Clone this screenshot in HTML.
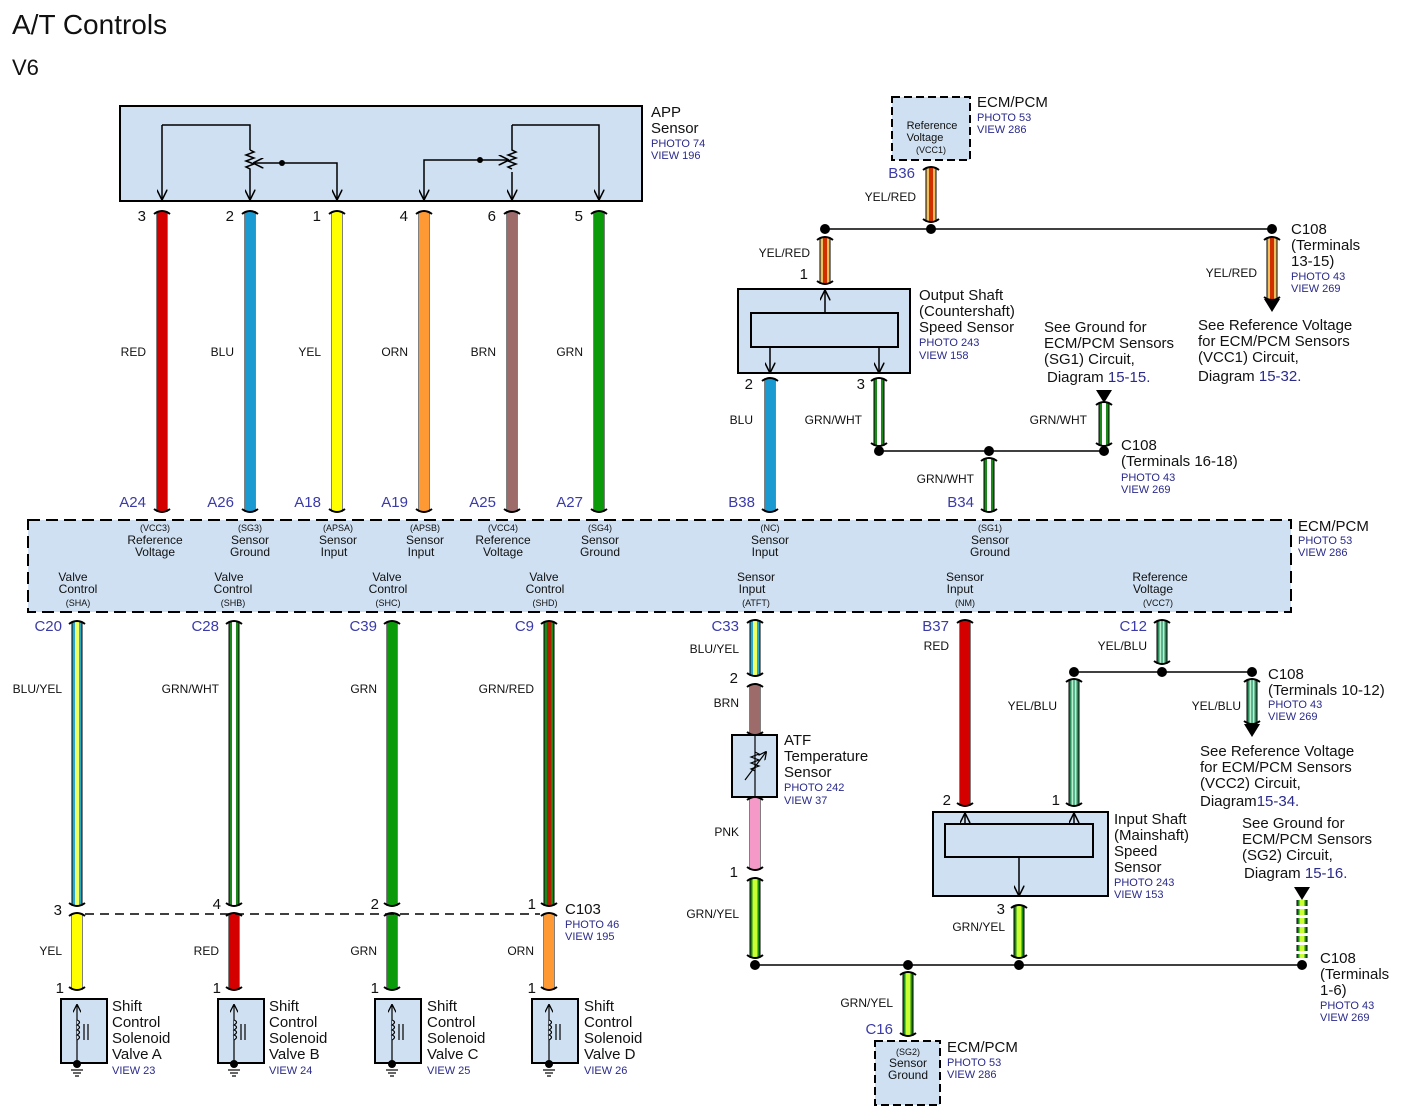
<!DOCTYPE html>
<html><head><meta charset="utf-8"><style>
html,body{margin:0;padding:0;background:#fff;}
svg{display:block;font-family:"Liberation Sans",Arial,sans-serif;}
.t15{font-size:15px;fill:#111;}
.t11{font-size:11px;fill:#111;}
.b11{font-size:11px;fill:#2a2a8a;}
.lbl{font-size:15px;fill:#3a3aa8;text-anchor:end;}
.wl{font-size:12px;fill:#111;text-anchor:end;}
.pn{font-size:15px;fill:#111;text-anchor:end;}
.c{text-anchor:middle;}
.s12{font-size:12px;fill:#111;}
.s9{font-size:9px;fill:#111;}
</style></head><body>
<svg id="s" width="1406" height="1119" viewBox="0 0 1406 1119" xmlns="http://www.w3.org/2000/svg">
<defs>
<marker id="ar" viewBox="0 0 10 10" refX="9" refY="5" markerWidth="7" markerHeight="7" orient="auto"><path d="M0 0 L10 5 L0 10" fill="none" stroke="#000" stroke-width="1.5"/></marker>
</defs>
<rect width="1406" height="1119" fill="#fff"/>
<text x="12" y="34" style="font-size:28px;fill:#111">A/T Controls</text>
<text x="12" y="75" style="font-size:22px;fill:#111">V6</text>

<!-- APP sensor -->
<rect x="120" y="106" width="522" height="95" fill="#cfe0f2" stroke="#000" stroke-width="2"/>
<g stroke="#000" stroke-width="1.5" fill="none">
<path d="M162 125 L162 199" marker-end="url(#ar)"/>
<path d="M162 125 L250 125 L250 150"/>
<path d="M250 172 L250 199" marker-end="url(#ar)"/>
<path d="M250 150 l4 2 l-8 3 l8 3 l-8 3 l8 3 l-8 3 l4 2 l0 3"/>
<path d="M282 163 L254 163" marker-end="url(#ar)"/>
<path d="M282 163 L337 163 L337 199" marker-end="url(#ar)"/>
<path d="M480 160 L424 160 L424 199" marker-end="url(#ar)"/>
<path d="M480 160 L508 160" marker-end="url(#ar)"/>
<path d="M512 125 L512 150 l4 2 l-8 3 l8 3 l-8 3 l8 3 l-8 3 l4 2"/>
<path d="M512 172 L512 199" marker-end="url(#ar)"/>
<path d="M512 125 L599 125 L599 199" marker-end="url(#ar)"/>
</g>
<circle cx="282" cy="163" r="3"/><circle cx="480" cy="160" r="3"/>
<text x="651" y="117" class="t15">APP</text><text x="651" y="133" class="t15">Sensor</text>
<text x="651" y="147" class="b11">PHOTO 74</text><text x="651" y="159" class="b11">VIEW 196</text>

<g id="wires"></g>

<text x="146" y="221" class="pn">3</text><text x="234" y="221" class="pn">2</text><text x="321" y="221" class="pn">1</text>
<text x="408" y="221" class="pn">4</text><text x="496" y="221" class="pn">6</text><text x="583" y="221" class="pn">5</text>
<text x="146" y="356" class="wl">RED</text><text x="234" y="356" class="wl">BLU</text><text x="321" y="356" class="wl">YEL</text>
<text x="408" y="356" class="wl">ORN</text><text x="496" y="356" class="wl">BRN</text><text x="583" y="356" class="wl">GRN</text>
<text x="146" y="507" class="lbl">A24</text><text x="234" y="507" class="lbl">A26</text><text x="321" y="507" class="lbl">A18</text>
<text x="408" y="507" class="lbl">A19</text><text x="496" y="507" class="lbl">A25</text><text x="583" y="507" class="lbl">A27</text>

<!-- ECM main box -->
<rect x="28" y="520" width="1263" height="92" fill="#cfe0f2" stroke="#000" stroke-width="2" stroke-dasharray="12,6"/>
<g class="c">
<text x="155" y="531" class="s9 c">(VCC3)</text><text x="155" y="544" class="s12 c">Reference</text><text x="155" y="556" class="s12 c">Voltage</text>
<text x="250" y="531" class="s9 c">(SG3)</text><text x="250" y="544" class="s12 c">Sensor</text><text x="250" y="556" class="s12 c">Ground</text>
<text x="338" y="531" class="s9 c">(APSA)</text><text x="338" y="544" class="s12 c">Sensor</text><text x="334" y="556" class="s12 c">Input</text>
<text x="425" y="531" class="s9 c">(APSB)</text><text x="425" y="544" class="s12 c">Sensor</text><text x="421" y="556" class="s12 c">Input</text>
<text x="503" y="531" class="s9 c">(VCC4)</text><text x="503" y="544" class="s12 c">Reference</text><text x="503" y="556" class="s12 c">Voltage</text>
<text x="600" y="531" class="s9 c">(SG4)</text><text x="600" y="544" class="s12 c">Sensor</text><text x="600" y="556" class="s12 c">Ground</text>
<text x="770" y="531" class="s9 c">(NC)</text><text x="770" y="544" class="s12 c">Sensor</text><text x="765" y="556" class="s12 c">Input</text>
<text x="990" y="531" class="s9 c">(SG1)</text><text x="990" y="544" class="s12 c">Sensor</text><text x="990" y="556" class="s12 c">Ground</text>
<text x="73" y="581" class="s12 c">Valve</text><text x="78" y="593" class="s12 c">Control</text><text x="78" y="606" class="s9 c">(SHA)</text>
<text x="229" y="581" class="s12 c">Valve</text><text x="233" y="593" class="s12 c">Control</text><text x="233" y="606" class="s9 c">(SHB)</text>
<text x="387" y="581" class="s12 c">Valve</text><text x="388" y="593" class="s12 c">Control</text><text x="388" y="606" class="s9 c">(SHC)</text>
<text x="544" y="581" class="s12 c">Valve</text><text x="545" y="593" class="s12 c">Control</text><text x="545" y="606" class="s9 c">(SHD)</text>
<text x="756" y="581" class="s12 c">Sensor</text><text x="752" y="593" class="s12 c">Input</text><text x="756" y="606" class="s9 c">(ATFT)</text>
<text x="965" y="581" class="s12 c">Sensor</text><text x="960" y="593" class="s12 c">Input</text><text x="965" y="606" class="s9 c">(NM)</text>
<text x="1160" y="581" class="s12 c">Reference</text><text x="1153" y="593" class="s12 c">Voltage</text><text x="1158" y="606" class="s9 c">(VCC7)</text>
</g>
<text x="1298" y="531" class="t15">ECM/PCM</text><text x="1298" y="544" class="b11">PHOTO 53</text><text x="1298" y="556" class="b11">VIEW 286</text>

<!-- lower left -->
<text x="62" y="631" class="lbl">C20</text><text x="219" y="631" class="lbl">C28</text><text x="377" y="631" class="lbl">C39</text><text x="534" y="631" class="lbl">C9</text>
<text x="62" y="693" class="wl">BLU/YEL</text><text x="219" y="693" class="wl">GRN/WHT</text><text x="377" y="693" class="wl">GRN</text><text x="534" y="693" class="wl">GRN/RED</text>
<line x1="85" y1="914" x2="540" y2="914" stroke="#000" stroke-width="1.5" stroke-dasharray="9,6"/>
<text x="62" y="915" class="pn">3</text><text x="221" y="909" class="pn">4</text><text x="379" y="909" class="pn">2</text><text x="536" y="909" class="pn">1</text>
<text x="565" y="914" class="t15">C103</text><text x="565" y="928" class="b11">PHOTO 46</text><text x="565" y="940" class="b11">VIEW 195</text>
<text x="62" y="955" class="wl">YEL</text><text x="219" y="955" class="wl">RED</text><text x="377" y="955" class="wl">GRN</text><text x="534" y="955" class="wl">ORN</text>
<text x="64" y="993" class="pn">1</text><text x="221" y="993" class="pn">1</text><text x="379" y="993" class="pn">1</text><text x="536" y="993" class="pn">1</text>
<g id="sol"></g>
<g class="t15">
<text x="112" y="1011">Shift</text><text x="112" y="1027">Control</text><text x="112" y="1043">Solenoid</text><text x="112" y="1059">Valve A</text>
<text x="269" y="1011">Shift</text><text x="269" y="1027">Control</text><text x="269" y="1043">Solenoid</text><text x="269" y="1059">Valve B</text>
<text x="427" y="1011">Shift</text><text x="427" y="1027">Control</text><text x="427" y="1043">Solenoid</text><text x="427" y="1059">Valve C</text>
<text x="584" y="1011">Shift</text><text x="584" y="1027">Control</text><text x="584" y="1043">Solenoid</text><text x="584" y="1059">Valve D</text>
</g>
<text x="112" y="1074" class="b11">VIEW 23</text><text x="269" y="1074" class="b11">VIEW 24</text><text x="427" y="1074" class="b11">VIEW 25</text><text x="584" y="1074" class="b11">VIEW 26</text>

<!-- top right -->
<rect x="892" y="97" width="78" height="63" fill="#cfe0f2" stroke="#000" stroke-width="2" stroke-dasharray="8,4"/>
<text x="932" y="129" class="s12 c" style="font-size:11px">Reference</text><text x="925" y="141" class="s12 c" style="font-size:11px">Voltage</text><text x="931" y="153" class="s9 c">(VCC1)</text>
<text x="977" y="107" class="t15">ECM/PCM</text><text x="977" y="121" class="b11">PHOTO 53</text><text x="977" y="133" class="b11">VIEW 286</text>
<text x="915" y="178" class="lbl">B36</text><text x="916" y="201" class="wl">YEL/RED</text>
<line x1="825" y1="229" x2="1272" y2="229" stroke="#000" stroke-width="1.5"/>
<text x="810" y="257" class="wl">YEL/RED</text><text x="808" y="279" class="pn">1</text>
<rect x="738" y="289" width="172" height="84" fill="#cfe0f2" stroke="#000" stroke-width="2"/>
<rect x="751" y="313" width="147" height="34" fill="#cfe0f2" stroke="#000" stroke-width="2"/>
<g stroke="#000" stroke-width="1.5" fill="none">
<path d="M825 313 L825 291" marker-end="url(#ar)"/>
<path d="M770 347 L770 372" marker-end="url(#ar)"/>
<path d="M879 347 L879 372" marker-end="url(#ar)"/>
</g>
<text x="919" y="300" class="t15">Output Shaft</text><text x="919" y="316" class="t15">(Countershaft)</text><text x="919" y="332" class="t15">Speed Sensor</text>
<text x="919" y="346" class="b11">PHOTO 243</text><text x="919" y="359" class="b11">VIEW 158</text>
<text x="1257" y="277" class="wl">YEL/RED</text>
<text x="1291" y="234" class="t15">C108</text><text x="1291" y="250" class="t15">(Terminals</text><text x="1291" y="266" class="t15">13-15)</text>
<text x="1291" y="280" class="b11">PHOTO 43</text><text x="1291" y="292" class="b11">VIEW 269</text>
<text x="1198" y="330" class="t15">See Reference Voltage</text><text x="1198" y="346" class="t15">for ECM/PCM Sensors</text>
<text x="1198" y="362" class="t15">(VCC1) Circuit,</text><text x="1198" y="381" class="t15">Diagram <tspan fill="#2a2a8a">15-32.</tspan></text>
<text x="1044" y="332" class="t15">See Ground for</text><text x="1044" y="348" class="t15">ECM/PCM Sensors</text>
<text x="1044" y="364" class="t15">(SG1) Circuit,</text><text x="1047" y="382" class="t15">Diagram <tspan fill="#2a2a8a">15-15.</tspan></text>
<text x="753" y="389" class="pn">2</text><text x="865" y="389" class="pn">3</text>
<text x="753" y="424" class="wl">BLU</text><text x="862" y="424" class="wl">GRN/WHT</text><text x="1087" y="424" class="wl">GRN/WHT</text>
<line x1="879" y1="451" x2="1104" y2="451" stroke="#000" stroke-width="1.5"/>
<text x="1121" y="450" class="t15">C108</text><text x="1121" y="466" class="t15">(Terminals 16-18)</text>
<text x="1121" y="481" class="b11">PHOTO 43</text><text x="1121" y="493" class="b11">VIEW 269</text>
<text x="974" y="483" class="wl">GRN/WHT</text>
<text x="755" y="507" class="lbl">B38</text><text x="974" y="507" class="lbl">B34</text>

<!-- bottom right -->
<text x="739" y="631" class="lbl">C33</text><text x="739" y="653" class="wl">BLU/YEL</text><text x="738" y="683" class="pn">2</text>
<text x="739" y="707" class="wl">BRN</text>
<rect x="732" y="735" width="45" height="62" fill="#cfe0f2" stroke="#000" stroke-width="2"/>
<g stroke="#000" stroke-width="1.2" fill="none">
<line x1="755" y1="735" x2="755" y2="797"/>
<path d="M755 752 l4 2 l-8 3 l8 3 l-8 3 l8 3 l-8 3 l4 2"/>
<path d="M745 780 L766 752" marker-end="url(#ar)"/>
</g>
<text x="784" y="745" class="t15">ATF</text><text x="784" y="761" class="t15">Temperature</text><text x="784" y="777" class="t15">Sensor</text>
<text x="784" y="791" class="b11">PHOTO 242</text><text x="784" y="804" class="b11">VIEW 37</text>
<text x="739" y="836" class="wl">PNK</text><text x="738" y="877" class="pn">1</text><text x="739" y="918" class="wl">GRN/YEL</text>
<line x1="755" y1="965" x2="1302" y2="965" stroke="#000" stroke-width="1.5"/>
<text x="949" y="631" class="lbl">B37</text><text x="949" y="650" class="wl">RED</text>
<text x="1147" y="631" class="lbl">C12</text><text x="1147" y="650" class="wl">YEL/BLU</text>
<line x1="1074" y1="672" x2="1252" y2="672" stroke="#000" stroke-width="1.5"/>
<text x="1057" y="710" class="wl">YEL/BLU</text><text x="1241" y="710" class="wl">YEL/BLU</text>
<text x="1268" y="679" class="t15">C108</text><text x="1268" y="695" class="t15">(Terminals 10-12)</text>
<text x="1268" y="708" class="b11">PHOTO 43</text><text x="1268" y="720" class="b11">VIEW 269</text>
<text x="1200" y="756" class="t15">See Reference Voltage</text><text x="1200" y="772" class="t15">for ECM/PCM Sensors</text>
<text x="1200" y="788" class="t15">(VCC2) Circuit,</text><text x="1200" y="806" class="t15">Diagram<tspan fill="#2a2a8a">15-34.</tspan></text>
<text x="951" y="805" class="pn">2</text><text x="1060" y="805" class="pn">1</text>
<rect x="933" y="812" width="175" height="84" fill="#cfe0f2" stroke="#000" stroke-width="2"/>
<rect x="945" y="824" width="148" height="33" fill="#cfe0f2" stroke="#000" stroke-width="2"/>
<g stroke="#000" stroke-width="1.5" fill="none">
<path d="M965 824 L965 814" marker-end="url(#ar)"/>
<path d="M1074 824 L1074 814" marker-end="url(#ar)"/>
<path d="M1019 857 L1019 895" marker-end="url(#ar)"/>
</g>
<text x="1114" y="824" class="t15">Input Shaft</text><text x="1114" y="840" class="t15">(Mainshaft)</text><text x="1114" y="856" class="t15">Speed</text><text x="1114" y="872" class="t15">Sensor</text>
<text x="1114" y="886" class="b11">PHOTO 243</text><text x="1114" y="898" class="b11">VIEW 153</text>
<text x="1005" y="914" class="pn">3</text><text x="1005" y="931" class="wl">GRN/YEL</text>
<text x="1242" y="828" class="t15">See Ground for</text><text x="1242" y="844" class="t15">ECM/PCM Sensors</text>
<text x="1242" y="860" class="t15">(SG2) Circuit,</text><text x="1244" y="878" class="t15">Diagram <tspan fill="#2a2a8a">15-16.</tspan></text>
<text x="1320" y="963" class="t15">C108</text><text x="1320" y="979" class="t15">(Terminals</text><text x="1320" y="995" class="t15">1-6)</text>
<text x="1320" y="1009" class="b11">PHOTO 43</text><text x="1320" y="1021" class="b11">VIEW 269</text>
<text x="893" y="1007" class="wl">GRN/YEL</text><text x="893" y="1034" class="lbl">C16</text>
<rect x="875" y="1041" width="65" height="64" fill="#cfe0f2" stroke="#000" stroke-width="2" stroke-dasharray="8,4"/>
<text x="908" y="1055" class="s9 c">(SG2)</text><text x="908" y="1067" class="s12 c">Sensor</text><text x="908" y="1079" class="s12 c">Ground</text>
<text x="947" y="1052" class="t15">ECM/PCM</text><text x="947" y="1066" class="b11">PHOTO 53</text><text x="947" y="1078" class="b11">VIEW 286</text>

<g id="dots"></g>
</svg>
<script>
var NS="http://www.w3.org/2000/svg";
function el(p,n,a){var e=document.createElementNS(NS,n);for(var k in a)e.setAttribute(k,a[k]);p.appendChild(e);return e;}
var W=document.getElementById('wires');
var T={RED:[['#d40000',10]],BLU:[['#1a9ad0',10]],YEL:[['#ffff00',10]],ORN:[['#ff9933',10]],BRN:[['#9e6b6b',10]],GRN:[['#0a9a0a',10]],PNK:[['#f59ac8',10]],
GW:[['#1a8a1a',9],['#ffffff',4]],BY:[['#2aa8c8',9],['#eeff66',4]],GR:[['#1a8a1a',9],['#b02000',4]],YR:[['#f0c060',9],['#d03000',4]],
YB:[['#2a8a5a',9],['#b8f0d0',5],['#3aa07a',1.5]],GY:[['#1a8a1a',9],['#ccff33',5]]};
function wire(x,y1,y2,t,dash){
 var la=T[t];
 var o=el(W,'line',{x1:x,y1:y1,x2:x,y2:y2,stroke:'#000','stroke-width':11});
 if(dash)o.setAttribute('stroke-dasharray','6,3');
 la.forEach(function(l){var e=el(W,'line',{x1:x,y1:y1,x2:x,y2:y2,stroke:l[0],'stroke-width':l[1]});if(dash)e.setAttribute('stroke-dasharray','6,3');});
 if(!dash){cap(x,y1,1);cap(x,y2,-1);}
}
function cap(x,y,d){el(W,'path',{d:'M'+(x-8)+' '+(y+3*d)+' Q'+x+' '+(y-3*d)+' '+(x+8)+' '+(y+3*d),fill:'none',stroke:'#000','stroke-width':2});}
[[162,'RED'],[250,'BLU'],[337,'YEL'],[424,'ORN'],[512,'BRN'],[599,'GRN']].forEach(function(w){wire(w[0],211,512,w[1]);});
wire(77,621,906,'BY');wire(234,621,906,'GW');wire(392,621,906,'GRN');wire(549,621,906,'GR');
wire(77,913,990,'YEL');wire(234,913,990,'RED');wire(392,913,990,'GRN');wire(549,913,990,'ORN');
wire(931,167,222,'YR');wire(825,237,284,'YR');wire(1272,237,300,'YR');
wire(770,378,512,'BLU');wire(879,378,446,'GW');wire(1104,402,446,'GW');wire(989,458,512,'GW');
wire(755,620,676,'BY');wire(755,684,735,'BRN');wire(755,797,870,'PNK');wire(755,878,958,'GY');
wire(965,620,806,'RED');wire(1162,620,664,'YB');wire(1074,679,806,'YB');wire(1252,679,724,'YB');
wire(1019,905,958,'GY');wire(908,972,1036,'GY');wire(1302,900,958,'GY',true);
var D=document.getElementById('dots');
[[825,229],[931,229],[1272,229],[879,451],[989,451],[1104,451],[1074,672],[1162,672],[1252,672],[755,965],[908,965],[1019,965],[1302,965]].forEach(function(p){el(D,'circle',{cx:p[0],cy:p[1],r:5,fill:'#000'});});
[[1272,299],[1252,724],[1104,390],[1302,887]].forEach(function(p){var x=p[0],y=p[1];el(D,'path',{d:'M'+(x-8)+' '+y+' L'+(x+8)+' '+y+' L'+x+' '+(y+13)+' Z',fill:'#000'});});
var S=document.getElementById('sol');
[[61,77],[218,234],[375,392],[532,549]].forEach(function(s){var x=s[0],c=s[1];
 el(S,'rect',{x:x,y:999,width:46,height:64,fill:'#cfe0f2',stroke:'#000','stroke-width':2});
 el(S,'line',{x1:c,y1:1063,x2:c,y2:1005,stroke:'#000','stroke-width':1.2,'marker-end':'url(#ar)'});
 el(S,'path',{d:'M'+c+' 1020 q5 2 0 5 q5 2 0 5 q5 2 0 5 q5 2 0 5',fill:'#cfe0f2',stroke:'#000','stroke-width':1.2});
 el(S,'line',{x1:c+7,y1:1024,x2:c+7,y2:1040,stroke:'#000','stroke-width':1.2});
 el(S,'line',{x1:c+11,y1:1024,x2:c+11,y2:1040,stroke:'#000','stroke-width':1.2});
 el(S,'circle',{cx:c,cy:1064,r:4,fill:'#000'});
 el(S,'line',{x1:c-6,y1:1070,x2:c+6,y2:1070,stroke:'#000','stroke-width':1.2});
 el(S,'line',{x1:c-4,y1:1073,x2:c+4,y2:1073,stroke:'#000','stroke-width':1.2});
 el(S,'line',{x1:c-2,y1:1076,x2:c+2,y2:1076,stroke:'#000','stroke-width':1.2});
});
</script>
</body></html>
